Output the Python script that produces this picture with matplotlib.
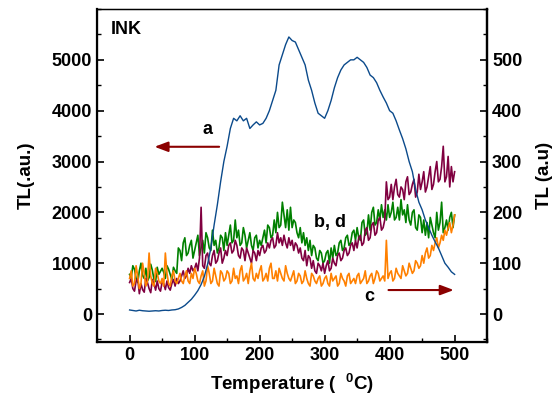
import matplotlib
matplotlib.use("Agg")
from matplotlib import pyplot as plt
import numpy as np

plt.rcParams['font.family'] = ['Liberation Sans', 'DejaVu Sans']
plt.rcParams['font.weight'] = 'bold'
plt.rcParams['mathtext.fontset'] = 'custom'
plt.rcParams['mathtext.bf'] = 'Liberation Sans:bold'
plt.rcParams['mathtext.rm'] = 'Liberation Sans:bold'
plt.rcParams['mathtext.default'] = 'bf'

temp = np.arange(0, 501, 5)
temp_n = np.arange(0, 500.1, 2.5)

# curve a (blue), step 5
tl_a = [80, 70, 60, 75, 65, 60, 55, 60, 65, 60, 70, 75, 70, 80, 85,
        100, 130, 170, 230, 290, 370, 460, 580, 740, 980,
        1300, 1750, 2150, 2600, 3000, 3300, 3650, 3850, 3800, 3900,
        3800, 3850, 3650, 3720, 3780, 3720, 3750, 3850, 4000, 4200,
        4400, 4900, 5100, 5300, 5450, 5380, 5350, 5200, 5050, 4900,
        4600, 4400, 4150, 3950, 3900, 3850, 4000, 4200, 4450, 4650,
        4800, 4900, 4950, 5000, 5000, 5050, 5000, 4950, 4850, 4700,
        4650, 4550, 4400, 4270, 4150, 4000, 3950, 3800, 3620, 3450,
        3250, 3000, 2800, 2450, 2200, 2050, 1850, 1700, 1550, 1420,
        1300, 1150, 1000, 920, 830, 780]

# green, step 2.5
tl_g = [780, 720, 950, 880, 700, 620, 850, 1000, 760, 700, 900, 650, 720, 980, 860, 680, 640, 920, 780, 840,
        900, 820, 700, 950, 880, 780, 680, 920, 850, 800, 1300, 1250, 1050, 1400, 1500, 1150, 1200, 1350, 1450, 1100,
        1250, 1400, 1550, 1150, 1300, 1450, 1200, 1600, 1500, 1300, 1250, 1650, 1350, 1450, 1200, 1300, 1550, 1500, 1250, 1600,
        1350, 1550, 1750, 1400, 1450, 1850, 1500, 1650, 1350, 1400, 1700, 1550, 1300, 1450, 1600, 1350, 1250, 1500, 1550, 1300,
        1450, 1350, 1500, 1650, 1400, 1750, 1700, 1500, 1550, 1850, 1600, 2000, 1700, 1750, 2200, 1950, 1700, 2050, 1650, 2100,
        1700, 1850, 1800, 1600, 1500, 1700, 1400, 1600, 1350, 1500, 1250, 1450, 1150, 1350, 1300, 1100, 1050, 1250, 1200, 1000,
        1050, 1200, 1250, 1000, 1300, 1100, 1350, 1150, 1200, 1400, 1450, 1250, 1300, 1500, 1550, 1350, 1400, 1600, 1650, 1450,
        1700, 1500, 1450, 1800, 1850, 1550, 1600, 1950, 1650, 2000, 2100, 1750, 1800, 2050, 1850, 2150, 1900, 2050, 1850, 2150,
        1900, 2000, 2200, 1850, 1900, 2100, 1850, 2250, 1950, 2050, 1800, 2150, 1850, 1750, 2000, 2050, 1700, 1650, 1950, 1900,
        1600, 1850, 1550, 1800, 1500, 1900, 1750, 1600, 1500, 2000, 1650, 1800, 2200, 1600, 1700, 1850, 1650, 1900, 2000, 1700,
        1950]

# maroon, step 2.5
tl_m = [620, 700, 500, 450, 650, 700, 400, 600, 480, 430, 700, 620, 500, 420, 680, 600, 470, 650, 500, 450,
        620, 600, 480, 650, 520, 470, 600, 680, 550, 700, 600, 650, 750, 850, 700, 750, 900, 800, 950, 850,
        900, 1000, 850, 1100, 2100, 950, 900, 1150, 1200, 1000, 950, 1150, 1250, 1000, 1050, 1200, 1300, 1000, 1100, 1250,
        1150, 1350, 1400, 1200, 1250, 1450, 1350, 1150, 1100, 1300, 1250, 1050, 1300, 1200, 1100, 1000, 1250, 1200, 1050, 1250,
        1150, 1300, 1350, 1200, 1250, 1400, 1300, 1450, 1500, 1300, 1350, 1600, 1400, 1500, 1350, 1550, 1400, 1300, 1500, 1350,
        1450, 1250, 1400, 1350, 1200, 1300, 1100, 1050, 1250, 950, 1150, 1100, 900, 1050, 850, 800, 1000, 950, 850, 1000,
        800, 950, 1050, 850, 900, 1100, 1000, 950, 1150, 1200, 1050, 1100, 1250, 1300, 1150, 1200, 1350, 1400, 1250, 1450,
        1300, 1500, 1550, 1350, 1400, 1650, 1700, 1450, 1500, 1750, 1800, 1550, 1600, 1850, 1900, 1650, 1700, 1850, 2600, 2250,
        2300, 2550, 2250, 2500, 2650, 2350, 2300, 2500, 2450, 2250, 2600, 2700, 2350, 2400, 2550, 2650, 2300, 2400, 2750, 2450,
        2600, 2800, 2400, 2500, 2700, 2900, 2450, 2550, 2800, 3000, 2600, 2650, 2900, 3300, 2600, 2700, 3100, 2500, 2900, 2600,
        2800]

# orange, step 2.5
tl_o = [700, 850, 550, 600, 950, 750, 500, 600, 1000, 800, 550, 650, 1200, 750, 600, 550, 900, 800, 650, 600,
        700, 550, 1200, 800, 600, 550, 750, 850, 650, 600, 700, 800, 650, 600, 750, 850, 650, 600, 800, 700,
        900, 800, 650, 600, 750, 850, 550, 650, 950, 800, 600, 650, 900, 750, 600, 550, 850, 800, 650, 700,
        850, 800, 600, 650, 900, 700, 750, 600, 850, 950, 650, 700, 800, 600, 850, 1000, 700, 650, 800, 700,
        850, 950, 650, 700, 800, 650, 900, 1000, 700, 700, 850, 650, 900, 800, 700, 650, 950, 800, 700, 650,
        750, 850, 600, 650, 800, 750, 600, 650, 850, 700, 600, 550, 800, 750, 650, 600, 700, 750, 550, 600,
        700, 750, 600, 550, 800, 650, 700, 750, 550, 600, 800, 700, 650, 550, 750, 800, 600, 650, 700, 600,
        750, 800, 600, 650, 700, 850, 600, 650, 750, 800, 600, 700, 850, 800, 650, 700, 750, 650, 1450, 700,
        800, 850, 650, 700, 900, 800, 750, 700, 950, 850, 750, 800, 1000, 900, 800, 850, 1050, 1000, 900, 950,
        1150, 1000, 1200, 1300, 1100, 1150, 1350, 1250, 1400, 1500, 1300, 1400, 1550, 1450, 1650, 1550, 1700, 1800, 1600, 1750,
        1950]

fig = plt.figure(figsize=(5.58, 4.0), dpi=100)
ax = fig.add_axes([0.174, 0.145, 0.699, 0.8325])

ax.plot(temp_n, tl_g, color='#008000', lw=1.2)
ax.plot(temp_n, tl_m, color='#800040', lw=1.2)
ax.plot(temp_n, tl_o, color='#ff8000', lw=1.2)
ax.plot(temp, tl_a, color='#0b4a8b', lw=1.0)

ax.set_xlim(-50, 550)
ax.set_ylim(-550, 6000)
ax.set_xticks(range(0, 501, 100))
ax.set_xticks(range(-50, 551, 50), minor=True)
ax.set_yticks(range(0, 5001, 1000))
ax.set_yticks(range(-500, 6001, 500), minor=True)
ax.tick_params(which='both', direction='in', top=False, right=False, labelsize=13)
ax.tick_params(which='major', length=5, width=1.2)
ax.tick_params(which='minor', length=3, width=1.0)
for s in ['left', 'bottom', 'right']:
    ax.spines[s].set_linewidth(1.6)
ax.spines['top'].set_linewidth(1.0)

ax2 = ax.twinx()
ax2.set_ylim(-55, 600)
ax2.set_yticks(range(0, 501, 100))
ax2.set_yticks(range(-50, 601, 50), minor=True)
ax2.tick_params(which='both', direction='in', labelsize=13)
ax2.tick_params(which='major', length=5, width=1.2)
ax2.tick_params(which='minor', length=3, width=1.0)
ax2.spines['right'].set_linewidth(1.6)

ax.set_xlabel('Temperature (  $^{0}$C)', fontsize=13.5, fontweight='bold', labelpad=6)
ax.set_ylabel('TL(.au.)', fontsize=13.5, fontweight='bold', labelpad=12)
ax2.set_ylabel('TL (a.u)', fontsize=13.5, fontweight='bold', labelpad=10)

ax.text(-29, 5590, 'INK', fontsize=13, fontweight='bold', va='center', ha='left')
ax.text(120, 3620, 'a', fontsize=13, fontweight='bold', va='center', ha='center')
ax.annotate('', xy=(34, 3290), xytext=(142, 3290),
            arrowprops=dict(arrowstyle='-|>,head_length=0.8,head_width=0.3', color='#8b0000', lw=1.5))
ax.text(308, 1810, 'b, d', fontsize=13, fontweight='bold', va='center', ha='center')
ax.text(369, 354, 'c', fontsize=13, fontweight='bold', va='center', ha='center')
ax.annotate('', xy=(503, 472), xytext=(394, 472),
            arrowprops=dict(arrowstyle='-|>,head_length=0.8,head_width=0.3', color='#8b0000', lw=1.5))

fig.savefig('out.png', dpi=100)
